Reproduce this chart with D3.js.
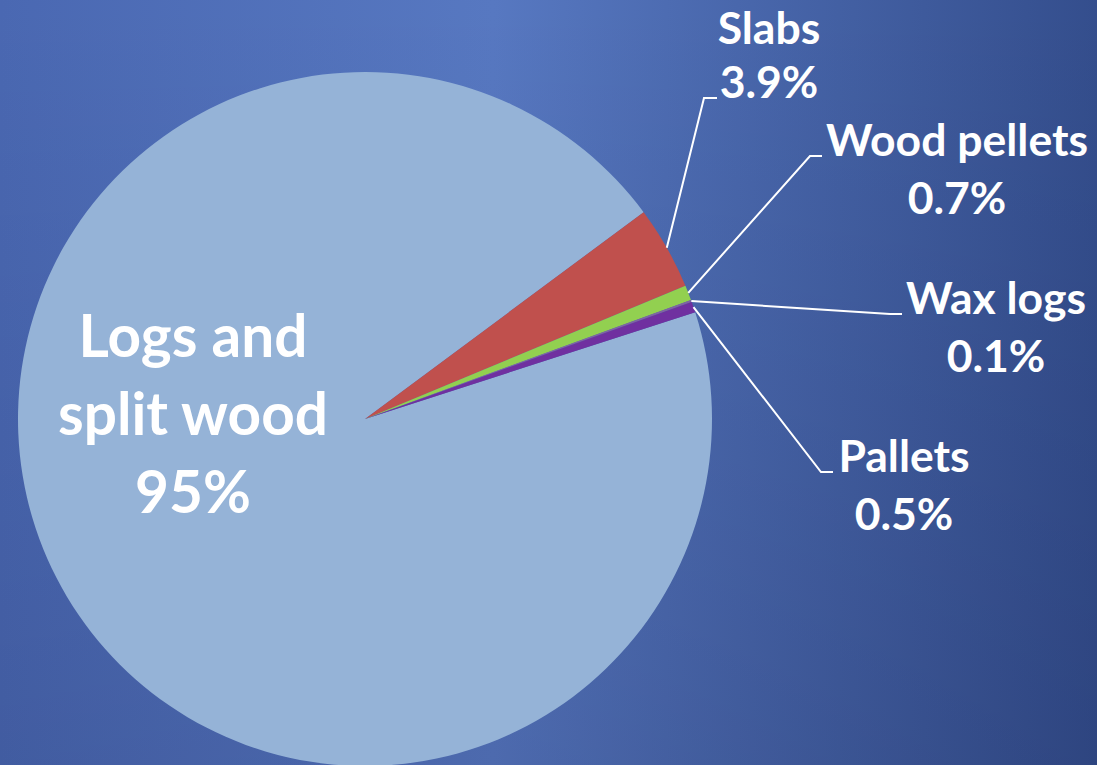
<!DOCTYPE html>
<html>
<head>
<meta charset="utf-8">
<script src="https://cdn.jsdelivr.net/npm/d3@7"></script>
<style>
html,body{margin:0;padding:0;overflow:hidden;}
svg{display:block;}
text{font-family:Lato,"Open Sans",sans-serif;font-weight:700;fill:#ffffff;}
</style>
</head>
<body>
<svg id="chart" width="1097" height="765"></svg>
<script>
// ---- data ----
const categories = ["Logs and split wood", "Slabs", "Wood pellets", "Wax logs", "Pallets"];
const values = [95, 3.9, 0.7, 0.1, 0.5];
const valueLabels = ["95%", "3.9%", "0.7%", "0.1%", "0.5%"];
const labelLines = [["Logs and", "split wood", "95%"], ["Slabs", "3.9%"], ["Wood pellets", "0.7%"], ["Wax logs", "0.1%"], ["Pallets", "0.5%"]];
const colors = ["#95b3d7", "#c0504d", "#92d050", "#8064a2", "#7030a0"];

// ---- layout ----
const W = 1097, H = 765;
const cx = 365, cy = 419, R = 347;
const startDeg = 72.1;
// label boxes: center x, first baseline, line height, font size
const labelLayout = [
  {x: 193, y: 357, lh: 78, fs: 58.5},
  {x: 769, y: 44, lh: 54, fs: 44.5},
  {x: 957, y: 156, lh: 58, fs: 44.5},
  {x: 996, y: 314, lh: 58, fs: 44.5},
  {x: 904, y: 472, lh: 58, fs: 44.5}
];
// leader: elbow and end points
const leaders = [
  null,
  [[704, 98], [717, 98]],
  [[810, 156], [822, 156]],
  [[890, 314], [902, 314]],
  [[821, 472], [833, 472]]
];

const svg = d3.select("#chart");
const defs = svg.append("defs");
const lg = defs.append("linearGradient").attr("id", "bg").attr("x1", "0").attr("y1", "0").attr("x2", "1").attr("y2", "0");
lg.append("stop").attr("offset", "0").attr("stop-color", "#4a68b2");
lg.append("stop").attr("offset", "0.45").attr("stop-color", "#5778c1");
lg.append("stop").attr("offset", "1").attr("stop-color", "#344e8d");
const vg = defs.append("linearGradient").attr("id", "bgv").attr("x1", "0").attr("y1", "0").attr("x2", "0").attr("y2", "1");
vg.append("stop").attr("offset", "0").attr("stop-color", "#000020").attr("stop-opacity", 0);
vg.append("stop").attr("offset", "1").attr("stop-color", "#000020").attr("stop-opacity", 0.12);

svg.append("rect").attr("width", W).attr("height", H).attr("fill", "url(#bg)");
svg.append("rect").attr("width", W).attr("height", H).attr("fill", "url(#bgv)");

const data = categories.map((c, i) => ({name: c, value: values[i], color: colors[i], i}));
const start = startDeg * Math.PI / 180;
const pie = d3.pie().sort(null).value(d => d.value).startAngle(start).endAngle(start + 2 * Math.PI);
const arcs = pie(data);
const arc = d3.arc().innerRadius(0).outerRadius(R);

const g = svg.append("g").attr("transform", `translate(${cx},${cy})`);
g.selectAll("path.slice").data(arcs).join("path")
  .attr("class", "slice")
  .attr("d", arc)
  .attr("fill", d => d.data.color);

// leader lines
const line = d3.line();
arcs.forEach((a, i) => {
  if (!leaders[i]) return;
  const mid = (a.startAngle + a.endAngle) / 2;
  const p0 = [cx + R * Math.sin(mid), cy - R * Math.cos(mid)];
  svg.append("path")
    .attr("d", line([p0, ...leaders[i]]))
    .attr("fill", "none")
    .attr("stroke", "#ffffff")
    .attr("stroke-width", 2);
});

// labels
labelLines.forEach((lines, i) => {
  const L = labelLayout[i];
  const t = svg.append("text")
    .attr("text-anchor", "middle")
    .attr("font-size", L.fs);
  lines.forEach((s, k) => {
    t.append("tspan").attr("x", L.x).attr("y", L.y + k * L.lh).text(s);
  });
});
</script>
</body>
</html>
